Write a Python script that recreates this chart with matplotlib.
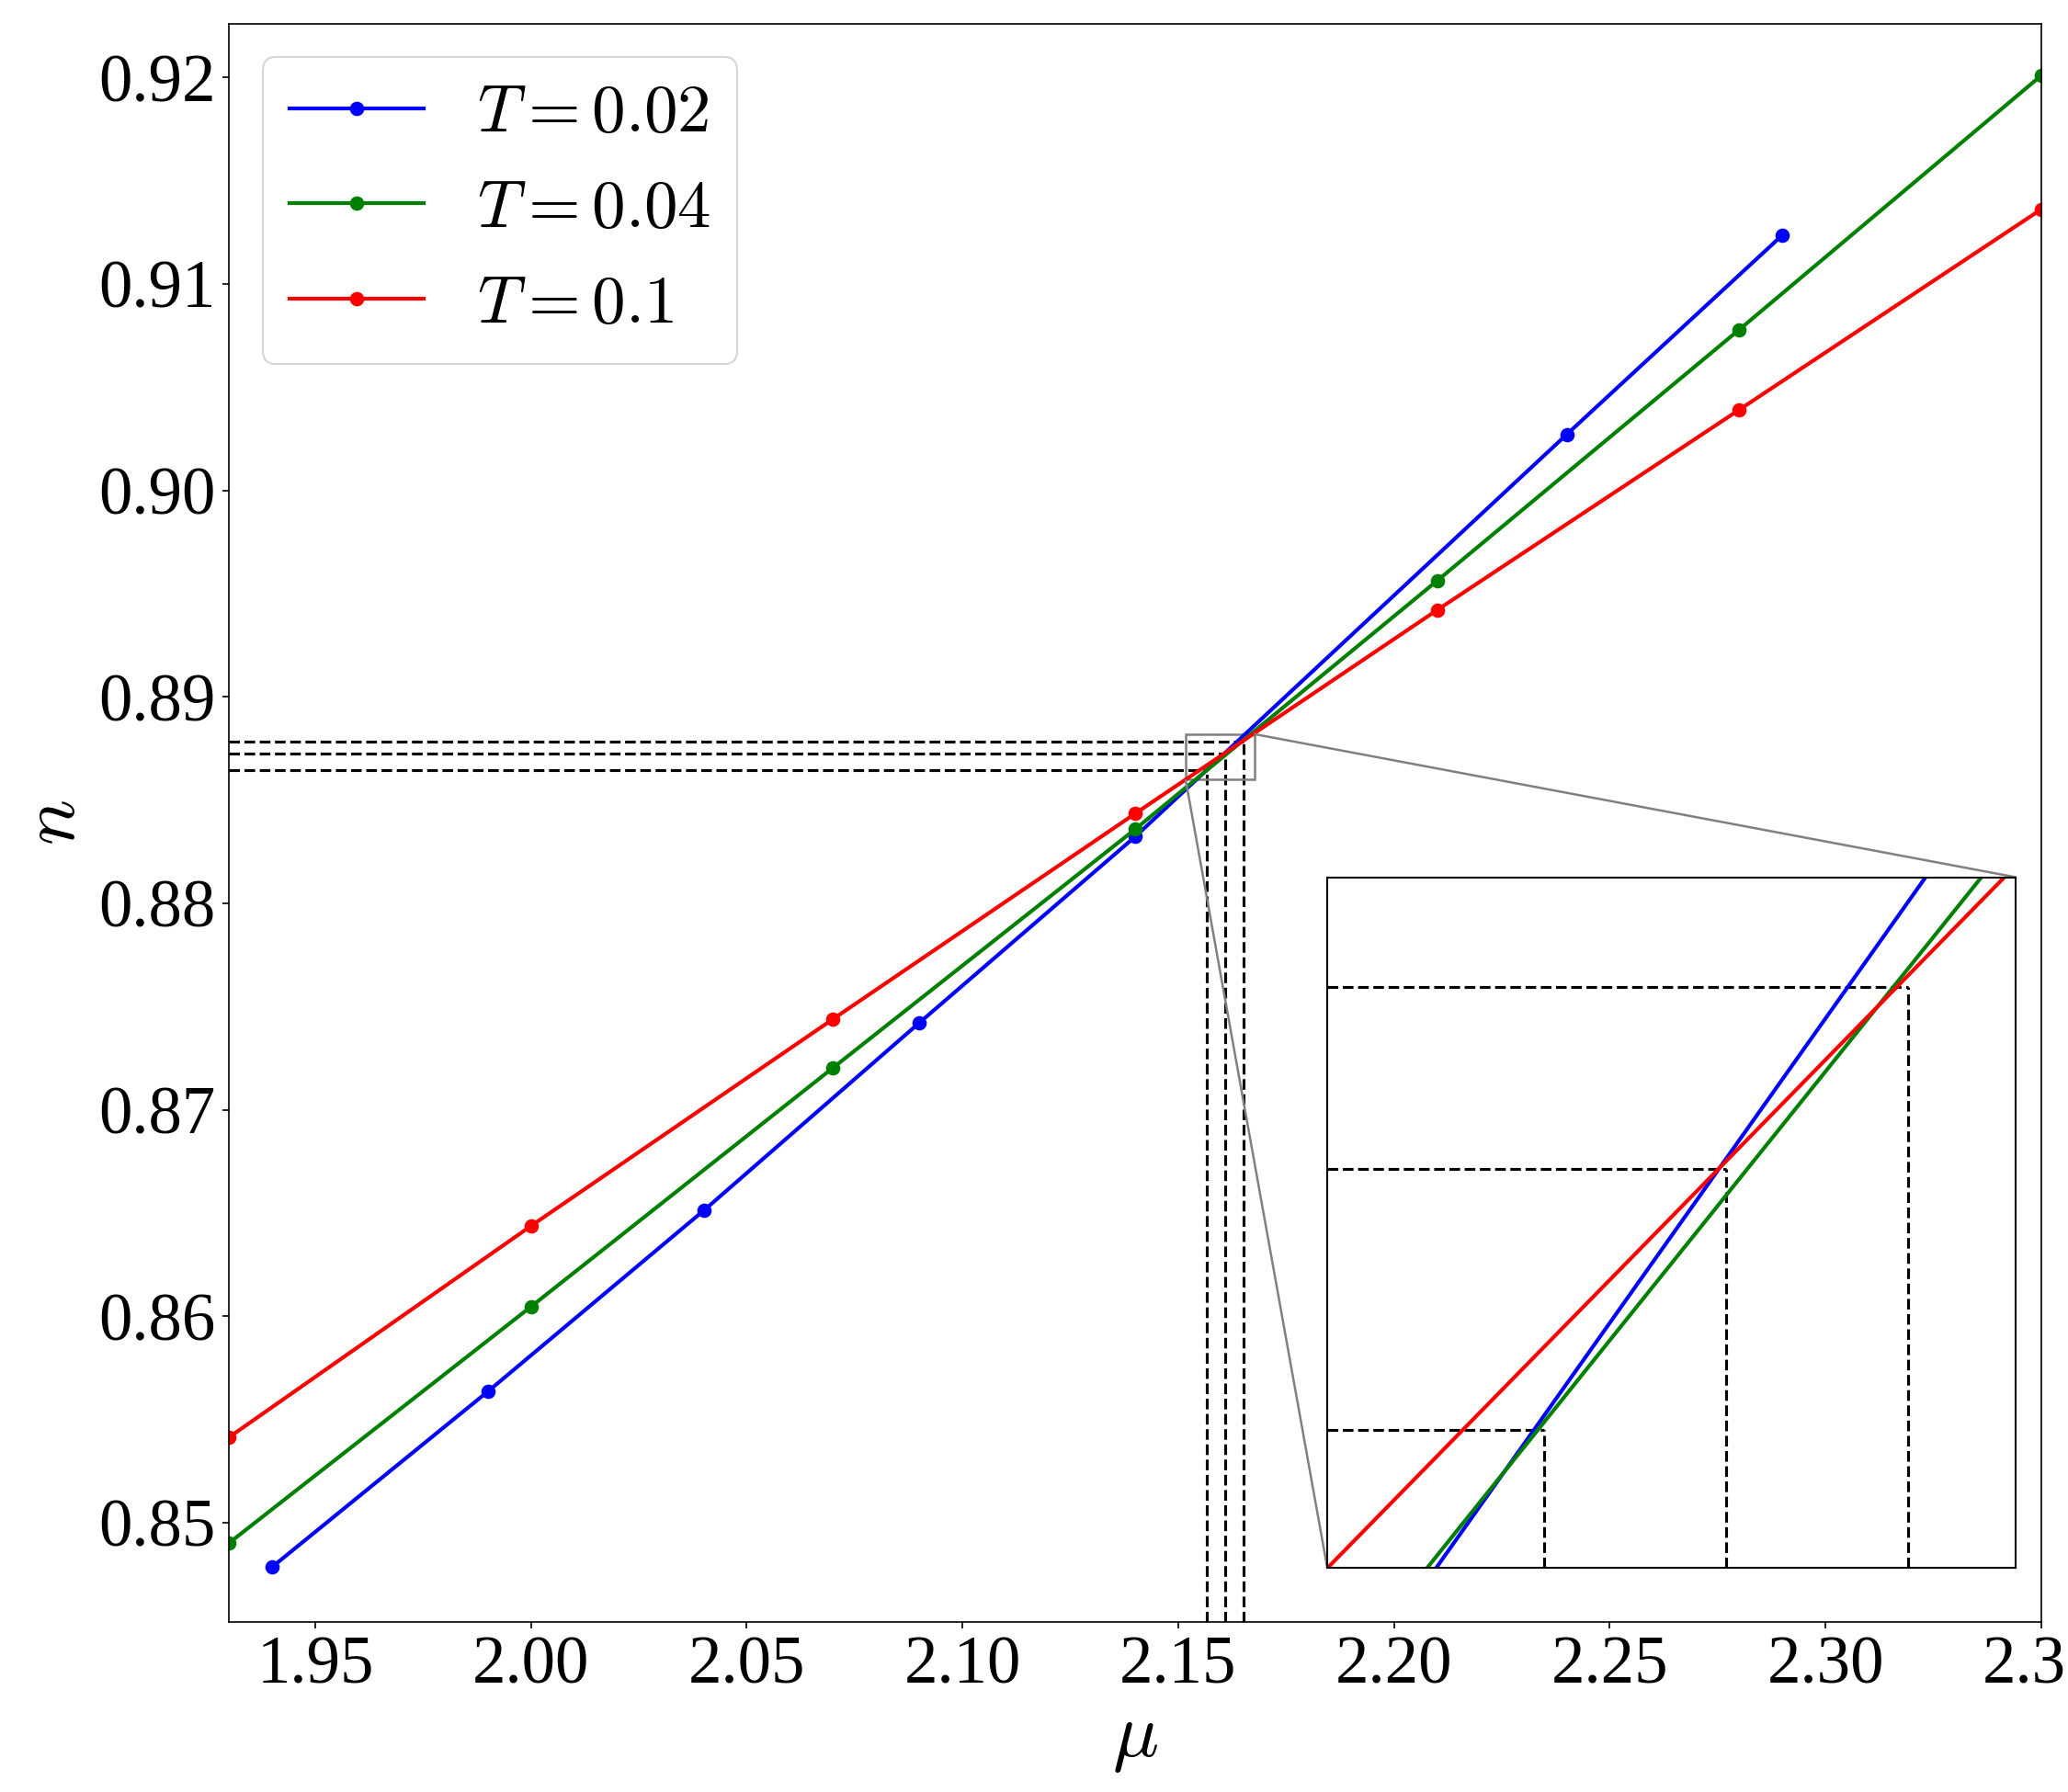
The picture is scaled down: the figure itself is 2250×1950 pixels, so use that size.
import matplotlib
matplotlib.use("Agg")
import matplotlib.pyplot as plt
from mpl_toolkits.axes_grid1.inset_locator import mark_inset

plt.rcParams["font.family"] = "serif"
plt.rcParams["font.serif"] = ["Liberation Serif", "DejaVu Serif"]
plt.rcParams["mathtext.fontset"] = "cm"

# n(mu) for three temperatures
mu_t002 = [1.94, 1.99, 2.04, 2.09, 2.14, 2.24, 2.29]
n_t002 = [0.84786, 0.85636, 0.86512, 0.87422, 0.88323, 0.90271, 0.91237]
mu_t004 = [1.93, 2.00, 2.07, 2.14, 2.21, 2.28, 2.35]
n_t004 = [0.84902, 0.86047, 0.87204, 0.88359, 0.89563, 0.90779, 0.92010]
mu_t01 = [1.93, 2.00, 2.07, 2.14, 2.21, 2.28, 2.35]
n_t01 = [0.85414, 0.86438, 0.87440, 0.88435, 0.89421, 0.90391, 0.91362]

SERIES = [
    (mu_t002, n_t002, "blue", r"$T=0.02$"),
    (mu_t004, n_t004, "green", r"$T=0.04$"),
    (mu_t01, n_t01, "red", r"$T=0.1$"),
]

# crossing points (dashed guides)
mu_cross = [2.1567, 2.1609, 2.1651]
n_cross = [0.88644, 0.88727, 0.88785]

XLIM = (1.93, 2.35)
YLIM = (0.8452, 0.9226)
XLIM_IN = (2.1517, 2.1676)
YLIM_IN = (0.8860, 0.8882)


def guides(ax, xlim, ylim):
    for mc, nc in zip(mu_cross, n_cross):
        ax.plot([xlim[0], mc], [nc, nc], "k--", lw=1.5, zorder=1)
        ax.plot([mc, mc], [ylim[0], nc], "k--", lw=1.5, zorder=1)


fig = plt.figure(figsize=(15, 13), dpi=150)
ax = fig.add_axes([0.1107, 0.0949, 0.8764, 0.8918])

guides(ax, XLIM, YLIM)
for mu, n, c, lab in SERIES:
    ax.plot(mu, n, "-o", color=c, lw=2, ms=6.5, label=lab, zorder=2)

ax.set_xlim(*XLIM)
ax.set_ylim(*YLIM)
ax.tick_params(labelsize=35)
ax.set_xlabel(r"$\mu$", fontsize=40)
ax.set_ylabel(r"$n$", fontsize=40)
ax.legend(loc="upper left", fontsize=35)

# zoomed inset around the crossing
axins = ax.inset_axes([0.606, 0.034, 0.380, 0.432])
guides(axins, XLIM_IN, YLIM_IN)
for mu, n, c, lab in SERIES:
    axins.plot(mu, n, "-", color=c, lw=2, zorder=2)
axins.set_xlim(*XLIM_IN)
axins.set_ylim(*YLIM_IN)
axins.set_xticks([])
axins.set_yticks([])
for s in axins.spines.values():
    s.set_linewidth(1.0)
mark_inset(ax, axins, loc1=1, loc2=3, fc="none", ec="0.5", lw=1.2)

fig.savefig("out.png", dpi=150)
